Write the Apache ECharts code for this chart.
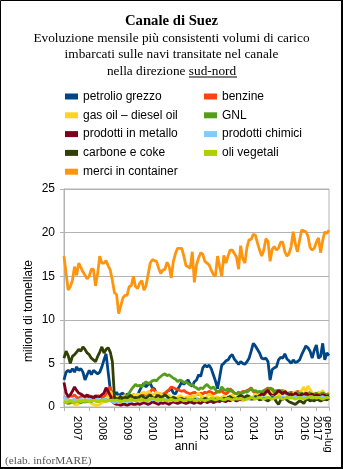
<!DOCTYPE html>
<html>
<head>
<meta charset="utf-8">
<script src="https://cdn.jsdelivr.net/npm/echarts@6/dist/echarts.min.js"></script>
<style>
html,body{margin:0;padding:0;background:#fff;}
#c{width:343px;height:469px;}
</style>
</head>
<body>
<div id="c"></div>
<script>
// ---- data ----
var years = ['2007','2008','2009','2010','2011','2012','2013','2014','2015','2016','2017'];
var monthNames = ['gen','feb','mar','apr','mag','giu','lug','ago','set','ott','nov','dic'];
var yearLabels = ['2007','2008','2009','2010','2011','2012','2013','2014','2015','2016','gen-lug\n2017'];
var yTicks = [0, 5, 10, 15, 20, 25];

var petrolioGrezzo = [
3.1,4.0,4.2,4.0,4.4,4.0,4.6,4.2,4.4,4.0,3.1,3.7,
4.2,3.7,4.2,4.0,3.8,4.0,4.6,5.4,6.1,4.0,2.0,1.5,
1.3,1.7,1.2,1.5,1.6,1.1,1.5,1.4,1.2,1.4,1.3,1.4,
1.9,2.4,2.7,2.3,2.6,2.7,2.2,2.1,1.4,1.3,1.5,1.4,
1.3,1.8,1.9,2.1,1.6,1.5,2.0,2.4,2.9,2.6,2.9,3.1,
2.6,2.4,2.9,3.1,3.7,3.5,4.5,4.8,4.6,4.8,4.4,3.7,
3.0,2.1,3.4,4.8,5.0,5.3,5.4,5.8,6.0,5.5,5.2,4.9,
5.2,5.0,4.9,5.2,5.6,6.4,7.3,7.0,6.6,6.2,5.6,5.5,
5.6,5.2,3.1,4.3,4.5,4.6,5.4,5.7,5.6,6.1,5.5,5.3,
5.0,5.4,5.1,5.2,5.4,6.0,6.5,7.0,6.8,6.4,5.6,6.5,
7.1,5.6,5.8,7.3,5.4,6.2,5.9];
var benzine = [
1.2,1.0,1.1,1.3,1.2,1.4,1.1,1.0,1.2,1.3,1.1,1.2,
1.3,1.1,1.2,1.0,1.3,1.2,1.1,1.2,1.4,2.0,2.3,1.2,
0.9,1.0,0.8,0.9,1.0,0.9,1.1,1.2,1.0,1.1,1.3,1.2,
1.4,1.3,1.5,1.4,1.6,1.7,2.1,1.9,1.6,1.5,1.4,1.5,
1.6,1.8,2.0,2.3,2.2,2.1,2.0,1.9,1.8,1.9,1.7,1.6,
1.5,1.6,1.7,1.5,1.4,1.6,1.5,1.7,1.6,1.8,1.7,1.5,
1.6,1.8,1.7,1.9,1.6,1.5,1.7,2.1,1.8,1.6,1.5,1.7,
1.6,1.8,1.7,1.9,2.0,2.2,1.8,1.6,1.7,1.5,1.6,1.8,
2.0,2.2,1.9,2.1,1.8,1.7,1.6,1.8,1.9,1.7,1.5,1.6,
1.7,1.5,1.6,1.8,1.7,1.5,1.4,1.6,1.5,1.7,1.4,1.3,
1.5,1.4,1.6,1.5,1.3,1.4,1.6];
var gasOil = [
0.8,0.6,0.5,0.4,0.6,0.3,0.2,0.4,0.5,0.6,0.5,0.7,
0.6,0.4,0.3,0.2,0.2,0.3,0.5,0.6,0.8,1.3,1.8,1.5,
1.3,1.1,1.2,1.0,1.2,1.3,1.1,1.0,1.2,1.4,1.3,1.5,
1.4,1.6,1.7,1.5,1.8,1.6,1.4,1.5,1.7,1.6,1.5,1.3,
1.2,1.4,1.3,1.1,1.2,1.0,1.1,1.3,1.2,1.0,1.1,1.2,
1.1,1.3,1.2,1.4,1.6,1.3,1.1,1.0,1.2,1.5,1.3,1.1,
1.0,1.2,0.9,1.1,1.3,1.0,0.8,1.2,1.4,1.1,0.9,1.0,
0.8,0.7,0.9,1.1,1.3,1.0,1.2,1.5,1.3,1.6,1.4,1.2,
1.5,1.8,2.0,1.6,1.4,1.7,1.5,1.3,1.6,1.9,1.4,1.2,
1.3,1.5,1.8,1.4,1.6,1.9,2.3,1.7,2.4,2.0,1.6,1.5,
1.4,1.7,1.6,1.9,1.5,1.4,1.6];
var gnl = [
0.6,0.5,0.4,0.5,0.6,0.5,0.7,0.6,0.5,0.6,0.7,0.6,
0.7,0.6,0.8,0.7,0.6,0.7,0.8,0.9,0.8,0.7,0.9,0.8,
0.8,0.9,0.7,0.8,1.0,1.1,1.3,1.6,2.0,2.3,2.6,2.4,
2.5,2.3,2.6,2.9,2.7,2.8,3.0,3.1,3.0,3.3,3.5,3.7,
3.8,3.6,3.7,3.5,3.3,3.2,2.9,3.1,3.0,2.8,2.9,2.7,
2.5,2.6,2.3,2.2,2.0,2.2,2.1,2.4,2.6,2.3,2.1,2.3,
2.0,1.7,1.8,2.3,2.0,1.9,2.1,1.8,1.9,1.6,1.5,1.6,
1.5,1.6,1.8,1.7,1.9,2.1,1.8,1.9,1.7,1.8,1.7,1.9,
2.0,1.8,2.2,2.0,1.7,1.9,1.8,1.9,1.7,1.6,1.5,1.6,
1.5,1.3,1.6,1.7,1.5,1.6,1.5,1.3,1.5,1.6,1.4,1.5,
1.6,1.4,1.5,1.6,1.5,1.4,1.5];
var prodottiMetallo = [
2.8,1.6,1.2,1.4,1.8,2.3,1.9,1.6,1.5,1.3,1.2,1.4,
1.1,1.2,1.0,1.3,1.1,1.2,1.4,1.6,2.2,1.8,1.3,0.6,
0.4,0.3,0.3,0.2,0.3,0.3,0.2,0.3,0.4,0.3,0.3,0.4,
0.3,0.4,0.5,0.4,0.3,0.4,0.6,0.5,0.4,0.3,0.5,0.4,
0.5,0.4,0.3,0.5,0.6,0.5,0.4,0.5,0.6,0.5,0.4,0.5,
0.6,0.5,0.4,0.6,0.5,0.4,0.6,0.7,0.5,0.6,0.7,0.5,
0.6,0.7,0.6,0.8,0.7,0.6,0.8,0.7,0.9,0.8,0.7,0.8,
0.9,1.0,0.9,1.1,1.0,0.9,1.0,1.2,1.1,1.3,1.5,1.4,
1.7,1.9,1.5,1.3,1.4,1.6,1.9,1.7,1.5,1.8,1.6,1.4,
1.5,1.3,1.6,1.4,1.2,1.5,1.3,1.6,1.4,1.3,1.5,1.2,
1.4,1.3,1.2,1.4,1.3,1.2,1.3];
var prodottiChimici = [
1.2,0.9,0.8,0.7,0.8,0.9,0.7,0.8,0.9,0.8,0.7,0.8,
0.9,0.8,0.7,0.8,0.9,0.8,0.7,0.9,0.8,0.7,0.8,0.6,
0.5,0.6,0.5,0.6,0.7,0.6,0.7,0.6,0.7,0.8,0.7,0.8,
0.8,0.7,0.9,0.8,0.7,0.9,0.8,0.9,0.8,0.7,0.8,0.9,
0.8,0.9,0.8,0.7,0.9,0.8,0.9,1.0,0.9,0.8,0.9,0.8,
0.9,0.8,0.9,1.0,0.9,0.8,0.9,1.0,0.9,0.8,0.9,1.0,
0.9,1.0,0.9,0.8,1.0,0.9,1.0,1.1,0.9,1.0,0.9,1.0,
1.0,0.9,1.1,1.0,0.9,1.0,1.1,1.0,1.1,0.9,1.0,1.1,
1.0,1.1,1.0,1.2,1.1,1.0,1.1,1.0,1.2,1.1,1.0,1.1,
1.0,1.1,1.2,1.0,1.1,1.0,1.2,1.1,1.0,1.1,1.2,1.0,
1.1,1.0,1.1,1.2,1.0,1.1,1.0];
var carboneCoke = [
5.6,6.4,5.9,5.0,5.8,6.0,6.3,6.6,6.4,6.9,6.6,6.2,
6.0,5.6,5.4,5.2,5.8,6.3,6.9,6.2,6.6,6.8,6.3,5.2,
1.1,0.9,1.0,1.2,0.9,1.1,1.0,1.2,1.3,1.0,1.1,0.9,
1.2,1.3,1.1,1.0,1.2,1.4,1.1,1.0,1.2,1.3,1.1,1.2,
1.4,1.2,1.0,0.9,1.1,1.0,0.8,0.9,1.0,0.8,0.9,0.8,
0.7,0.8,0.9,0.7,0.8,0.9,0.8,1.0,0.9,0.8,0.7,0.8,
0.9,0.8,0.7,0.8,1.0,0.9,1.1,1.2,1.0,0.9,1.0,1.2,
1.3,1.2,1.1,1.3,1.2,1.0,0.9,1.1,1.0,0.8,0.9,1.0,
0.8,0.7,0.9,1.1,1.0,0.6,0.3,0.8,0.9,1.0,0.8,0.6,
0.5,0.4,0.3,0.5,0.7,0.6,0.4,0.8,0.9,0.7,0.8,0.7,
0.9,0.8,0.7,0.8,0.9,0.8,1.0];
var oliVegetali = [
0.6,0.5,0.6,0.7,0.6,0.5,0.6,0.7,0.6,0.7,0.8,0.7,
0.6,0.7,0.8,0.7,0.6,0.7,0.8,0.7,0.6,0.8,0.7,0.8,
0.7,0.8,0.7,0.6,0.7,0.8,0.7,0.8,0.9,0.8,0.7,0.8,
0.8,0.9,0.8,0.7,0.8,0.9,1.0,0.9,0.8,0.9,0.8,0.9,
0.8,0.7,0.8,0.9,0.8,0.7,0.8,0.9,0.8,0.7,0.8,0.9,
0.8,0.9,0.8,0.7,0.8,0.9,0.8,0.7,0.8,0.9,1.0,0.9,
0.8,0.9,1.0,0.9,0.8,0.9,1.0,0.9,0.8,0.9,1.0,0.9,
1.0,0.9,0.8,0.9,1.0,1.1,1.0,0.9,1.0,1.1,1.0,0.9,
1.0,1.1,1.0,0.9,1.0,1.1,1.2,1.0,0.9,1.0,1.1,1.0,
1.1,1.0,0.9,1.0,1.1,1.0,0.9,1.0,1.1,1.2,1.0,1.1,
1.0,1.1,1.0,0.9,1.0,1.1,1.0];
var merciContainer = [
17.3,15.3,13.4,13.8,14.5,16.1,15.1,16.5,16.0,15.5,15.1,14.7,
15.0,15.8,15.8,13.9,15.3,17.3,16.5,16.5,16.8,16.2,15.7,14.5,
13.1,12.9,10.7,11.6,12.5,12.8,12.8,13.8,13.9,15.0,13.8,13.6,
14.2,14.5,13.4,13.9,15.2,16.5,16.9,16.8,16.7,15.9,15.3,15.7,
15.8,16.6,16.1,14.8,16.7,17.6,18.2,18.2,18.2,17.3,16.2,16.1,
15.9,17.8,14.3,16.3,17.1,17.7,17.5,16.7,16.5,16.3,15.7,15.2,
15.0,17.3,16.1,15.0,17.4,16.5,17.3,18.0,18.0,17.6,17.2,15.8,
18.5,17.0,16.5,18.3,19.2,19.2,19.8,19.7,18.8,18.0,17.3,18.0,
19.3,19.0,16.7,18.1,18.4,18.0,18.2,18.9,18.9,17.8,17.3,17.6,
18.4,20.1,18.7,17.8,19.1,20.3,20.2,20.1,19.6,18.3,18.0,18.2,
18.9,19.4,17.7,19.1,20.1,19.9,20.3];

var seriesNames = ['petrolio grezzo','benzine','gas oil \u2013 diesel oil','GNL','prodotti in metallo','prodotti chimici','carbone e coke','oli vegetali','merci in container'];
var seriesData = [petrolioGrezzo, benzine, gasOil, gnl, prodottiMetallo, prodottiChimici, carboneCoke, oliVegetali, merciContainer];
var seriesColors = ['#004586','#ff420e','#ffd320','#579d1c','#7e0021','#83caff','#314004','#aecf00','#ff950e'];

// categories: months gen 2007 .. lug 2017
var categories = [];
years.forEach(function (y, yi) {
  var n = (yi === years.length - 1) ? 7 : 12;
  for (var m = 0; m < n; m++) categories.push(monthNames[m] + ' ' + y);
});
var lastIdx = categories.length - 1;

function labelIndexFor(yi) {
  var start = yi * 12;
  var n = Math.min(12, categories.length - start);
  return start + Math.floor(n / 2);
}
var labelMap = {};
years.forEach(function (y, yi) { labelMap[labelIndexFor(yi)] = yearLabels[yi]; });

var chart = echarts.init(document.getElementById('c'), null, {renderer: 'canvas'});
var sansFont = 'Liberation Sans, Arial, sans-serif';
var legendText = {fontSize: 12, fontFamily: sansFont, color: '#000', lineHeight: 14};
var option = {
  backgroundColor: '#fff',
  animation: false,
  title: {
    left: 'center', top: 8, itemGap: 0,
    text: 'Canale di Suez',
    textStyle: {fontFamily: 'Liberation Serif, Times New Roman, serif', fontWeight: 'bold', fontSize: 14.7, color: '#000', lineHeight: 17},
    subtext: 'Evoluzione mensile pi\u00f9 consistenti volumi di carico\nimbarcati sulle navi transitate nel canale\nnella direzione sud-nord',
    subtextStyle: {fontFamily: 'Liberation Serif, Times New Roman, serif', fontSize: 13.3, color: '#000', lineHeight: 16.5}
  },
  legend: [
    {left: 60, top: 84.5, orient: 'vertical', icon: 'rect', itemWidth: 13, itemHeight: 6, itemGap: 4.8, selectedMode: false,
     data: [seriesNames[0], seriesNames[2], seriesNames[4], seriesNames[6], seriesNames[8]], textStyle: legendText},
    {left: 199, top: 84.5, orient: 'vertical', icon: 'rect', itemWidth: 13, itemHeight: 6, itemGap: 4.8, selectedMode: false,
     data: [seriesNames[1], seriesNames[3], seriesNames[5], seriesNames[7]], textStyle: legendText}
  ],
  grid: {left: 64, right: 14, top: 189, bottom: 62, show: true, borderColor: '#b3b3b3', borderWidth: 1, containLabel: false},
  xAxis: {
    type: 'category', boundaryGap: false, data: categories,
    axisLine: {lineStyle: {color: '#b3b3b3'}},
    axisTick: {show: true, length: 4, lineStyle: {color: '#b3b3b3'},
      interval: function (i) { return i % 12 === 0 || i === lastIdx; }},
    axisLabel: {rotate: -90, margin: 9, fontSize: 11, color: '#000', fontFamily: sansFont,
      interval: function (i) { return labelMap[i] !== undefined; },
      formatter: function (v, i) { return labelMap[i] || ''; }},
    splitLine: {show: false}
  },
  yAxis: {
    type: 'value', min: yTicks[0], max: yTicks[yTicks.length - 1], interval: 5,
    axisLine: {show: true, lineStyle: {color: '#b3b3b3'}},
    axisTick: {show: true, length: 4, lineStyle: {color: '#b3b3b3'}},
    axisLabel: {margin: 9, fontSize: 12, color: '#000', fontFamily: sansFont},
    splitLine: {lineStyle: {color: '#b3b3b3'}}
  },
  series: seriesNames.map(function (n, k) {
    return {name: n, type: 'line', data: seriesData[k], symbol: 'none', showSymbol: false,
      lineStyle: {width: 2.8, color: seriesColors[k]}, itemStyle: {color: seriesColors[k]}, z: 2 + k};
  }),
  graphic: [
    {type: 'text', x: 186, y: 447, style: {text: 'anni', font: '12px "Liberation Sans", Arial, sans-serif', fill: '#000', align: 'center', verticalAlign: 'middle'}},
    {type: 'text', x: 29, y: 311, rotation: Math.PI / 2, style: {text: 'milioni di tonnellate', font: '12px "Liberation Sans", Arial, sans-serif', fill: '#000', align: 'center', verticalAlign: 'middle'}},
    {type: 'text', left: 5, top: 456, style: {text: '(elab. inforMARE)', font: '11.3px "Liberation Serif", serif', fill: '#555'}},
    {type: 'line', shape: {x1: 189, y1: 77, x2: 237, y2: 77}, style: {stroke: '#000', lineWidth: 1}},
    {type: 'rect', shape: {x: 0.5, y: 0.5, width: 341, height: 467}, style: {fill: null, stroke: '#000', lineWidth: 1}},
    {type: 'line', shape: {x1: 342, y1: 0, x2: 342, y2: 469}, style: {stroke: '#000', lineWidth: 2}},
    {type: 'line', shape: {x1: 0, y1: 468, x2: 343, y2: 468}, style: {stroke: '#000', lineWidth: 2}}
  ]
};
chart.setOption(option);
</script>
</body>
</html>
